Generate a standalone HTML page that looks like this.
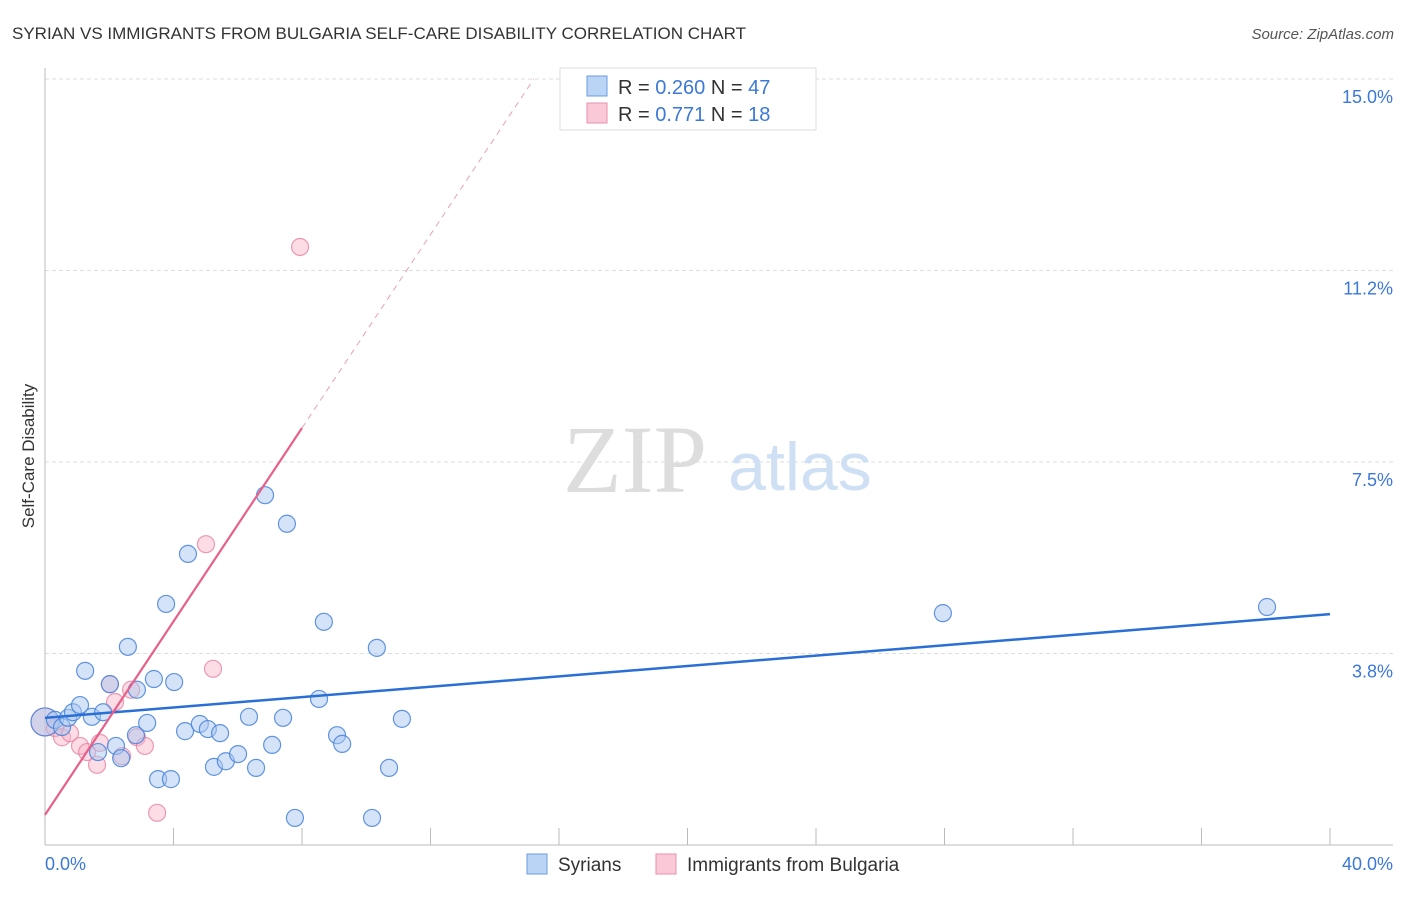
<!DOCTYPE html>
<html><head><meta charset="utf-8"><style>
body{margin:0;background:#fff;font-family:"Liberation Sans",sans-serif}
</style></head><body>
<svg width="1406" height="892" xmlns="http://www.w3.org/2000/svg">
<text x="12" y="39" font-size="17" fill="#333">SYRIAN VS IMMIGRANTS FROM BULGARIA SELF-CARE DISABILITY CORRELATION CHART</text>
<text x="1394" y="39" font-size="15" fill="#555" font-style="italic" text-anchor="end">Source: ZipAtlas.com</text>
<g id="grid"></g>
<text x="635" y="492" font-family="Liberation Serif,serif" font-size="96" fill="#ddd" text-anchor="middle">ZIP</text>
<text x="800" y="490" font-size="68" fill="#cfe0f5" text-anchor="middle">atlas</text>
<line x1="45" y1="68" x2="45" y2="845" stroke="#bbb"/>
<line x1="45" y1="845" x2="1393" y2="845" stroke="#bbb"/>
<text transform="translate(34,456) rotate(-90)" font-size="17" fill="#333" text-anchor="middle">Self-Care Disability</text>
<text x="45" y="870" font-size="18" fill="#3b78d8">0.0%</text>
<text x="1393" y="870" font-size="18" fill="#3b78d8" text-anchor="end">40.0%</text>
<g id="pts"></g>
<g id="lines"></g>
<g>
<rect x="560" y="68" width="256" height="62" fill="#fff" stroke="#ddd"/>
<rect x="587" y="76" width="20" height="20" fill="#b9d4f5" stroke="#6a9de0"/>
<rect x="587" y="103" width="20" height="20" fill="#f9c9d8" stroke="#e890ac"/>
<text x="618" y="94" font-size="20" fill="#333">R = <tspan fill="#3b78d8">0.260</tspan>   N = <tspan fill="#3b78d8">47</tspan></text>
<text x="618" y="121" font-size="20" fill="#333">R =  <tspan fill="#3b78d8">0.771</tspan>   N =  <tspan fill="#3b78d8">18</tspan></text>
</g>
<g>
<rect x="527" y="854" width="20" height="20" fill="#b9d4f5" stroke="#6a9de0"/>
<text x="558" y="871" font-size="19" fill="#333">Syrians</text>
<rect x="656" y="854" width="20" height="20" fill="#f9c9d8" stroke="#e890ac"/>
<text x="687" y="871" font-size="19" fill="#333">Immigrants from Bulgaria</text>
</g>
</svg>
<script>
const yTicks=[3.8,7.5,11.2,15.0];
const yTickVals=[3.75,7.5,11.25,15];
const xTickCount=10;
const syrX=[0,0.31,0.53,0.72,0.87,1.09,1.25,1.46,1.65,1.81,2.02,2.21,2.37,2.58,2.86,2.83,3.18,3.39,3.52,3.92,3.77,4.02,4.36,4.45,4.82,5.07,5.26,5.45,5.63,6.01,6.35,6.57,6.85,7.07,7.41,7.53,7.78,8.53,8.68,9.09,9.25,10.18,10.33,10.71,11.11,27.95,38.04];
const syrY=[2.41,2.45,2.31,2.49,2.60,2.74,3.41,2.51,1.82,2.60,3.15,1.94,1.70,3.88,3.04,2.15,2.39,3.25,1.29,1.29,4.72,3.19,2.23,5.70,2.37,2.27,1.53,2.19,1.64,1.78,2.51,1.51,6.85,1.96,2.49,6.29,0.53,2.86,4.37,2.15,1.98,0.53,3.86,1.51,2.47,4.54,4.66];
const bulX=[0,0.31,0.53,0.78,1.09,1.31,1.62,1.71,2.02,2.18,2.40,2.68,2.86,3.11,3.49,5.01,5.23,7.94];
const bulY=[2.41,2.29,2.11,2.19,1.94,1.82,1.57,2.00,3.15,2.80,1.74,3.04,2.11,1.94,0.63,5.89,3.45,11.71];
const syrTrend=[2.49,4.52];
const bulTrend=[0.59,0.947];
const X=v=>45+v*32.125, Y=v=>845-v*51.07;
const NS="http://www.w3.org/2000/svg";
function mk(t,a,p){const e=document.createElementNS(NS,t);for(const k in a)e.setAttribute(k,a[k]);p.appendChild(e);return e;}
const grid=document.getElementById('grid');
yTicks.forEach((t,i)=>{const y=Y(yTickVals[i]);
const l=mk('line',{x1:45,x2:1393,y1:y,y2:y,stroke:'#ddd','stroke-dasharray':'4,3'},grid);


const tx=mk('text',{x:1393,y:y+24,'font-size':18,fill:'#3b78d8','text-anchor':'end'},grid);
tx.textContent=t.toFixed(1)+'%';

});
for(let i=1;i<=xTickCount;i++){const x=X(i*4);
const l=mk('line',{x1:x,x2:x,y1:828,y2:845,stroke:'#bbb'},grid);

}
const pts=document.getElementById('pts');
bulX.forEach((v,i)=>{const c=mk('circle',{cx:X(v),cy:Y(bulY[i]),r:i==0?14:8.5,fill:'rgba(248,180,200,0.45)',stroke:'rgba(232,130,160,0.8)','stroke-width':1.2},pts);

});
syrX.forEach((v,i)=>{const c=mk('circle',{cx:X(v),cy:Y(syrY[i]),r:i==0?14:8.5,fill:'rgba(170,200,240,0.5)',stroke:'rgba(70,130,220,0.85)','stroke-width':1.2},pts);

});
const ln=document.getElementById('lines');
let a=mk('line',{x1:X(0),y1:Y(syrTrend[0]),x2:X(40),y2:Y(syrTrend[1]),stroke:'#2a6fd6','stroke-width':2.5},ln);


const xe=8.0, xd=(15-bulTrend[0])/bulTrend[1];
let b=mk('line',{x1:X(0),y1:Y(bulTrend[0]),x2:X(xe),y2:Y(bulTrend[0]+bulTrend[1]*xe),stroke:'#e8608a','stroke-width':2.2},ln);


let d=mk('line',{x1:X(xe),y1:Y(bulTrend[0]+bulTrend[1]*xe),x2:X(xd),y2:Y(15),stroke:'#eaa0b8','stroke-width':1,'stroke-dasharray':'6,5'},ln);


</script>
</body></html>
